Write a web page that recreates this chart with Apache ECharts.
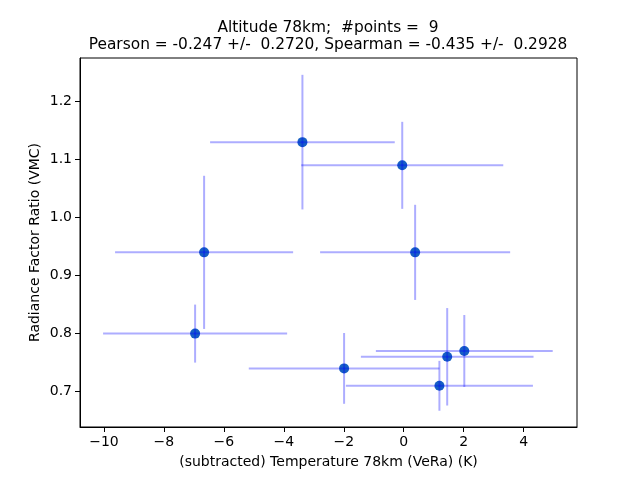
<!DOCTYPE html>
<html>
<head>
<meta charset="utf-8">
<script src="https://cdn.jsdelivr.net/npm/echarts@6/dist/echarts.min.js"></script>
<style>
  html, body { margin: 0; padding: 0; background: #fff; }
  #chart { width: 640px; height: 480px; }
</style>
</head>
<body>
<div id="chart"></div>
<script>
// data
var tempX = [-3.38, -0.05, -6.66, 0.38, -6.96, -1.99, 1.45, 2.02, 1.19];
var ratioY = [1.13, 1.09, 0.94, 0.94, 0.80, 0.74, 0.76, 0.77, 0.71];
var tempErr = [3.08, 3.37, 2.97, 3.17, 3.07, 3.18, 2.88, 2.95, 3.12];
var ratioErr = [0.116, 0.075, 0.132, 0.082, 0.050, 0.061, 0.084, 0.062, 0.043];
var xTicks = [-10, -8, -6, -4, -2, 0, 2, 4];
var yTicks = [0.7, 0.8, 0.9, 1.0, 1.1, 1.2];

var titleText = 'Altitude 78km;  #points =  9\nPearson = -0.247 +/-  0.2720, Spearman = -0.435 +/-  0.2928';

var FONT = 'DejaVu Sans';

var points = [];
var bars = [];
for (var i = 0; i < tempX.length; i++) {
	points.push([tempX[i], ratioY[i]]);
	bars.push([tempX[i], ratioY[i], tempErr[i], ratioErr[i]]);
}

var renderErrBar = function(params, api) {
	var x = api.value(0), y = api.value(1);
	var ex = api.value(2), ey = api.value(3);
	var l = api.coord([x - ex, y]);
	var r = api.coord([x + ex, y]);
	var t = api.coord([x, y + ey]);
	var b = api.coord([x, y - ey]);
	var style = { stroke: 'rgba(0,0,255,0.32)', lineWidth: 2 };
	return {
		type : 'group',
		children : [
			{ type : 'line', shape : { x1 : l[0], y1 : l[1], x2 : r[0], y2 : r[1] }, style : style },
			{ type : 'line', shape : { x1 : t[0], y1 : t[1], x2 : b[0], y2 : b[1] }, style : style }
		]
	};
};

var myChart = echarts.init(document.getElementById('chart'), null, { renderer : 'canvas' });

var option = {
	backgroundColor : '#fff',
	animation : false,
	title : {
		text : titleText,
		left : 323,
		textAlign : 'center',
		top : 14,
		textStyle : {
			fontFamily : FONT,
			fontSize : 15.4,
			fontWeight : 'normal',
			color : '#000',
			lineHeight : 17
		}
	},
	grid : {
		left : 80,
		right : 63,
		top : 58,
		bottom : 53,
		show : true,
		borderColor : '#000',
		borderWidth : 1,
		containLabel : false
	},
	xAxis : {
		type : 'value',
		min : -10.8,
		max : 5.78,
		name : '(subtracted) Temperature 78km (VeRa) (K)',
		nameLocation : 'middle',
		nameGap : 28,
		nameTextStyle : { fontFamily : FONT, fontSize : 14, color : '#000' },
		splitLine : { show : false },
		axisLine : { show : true, onZero : false, lineStyle : { color : '#000', width : 1 } },
		axisTick : { show : true, length : 5, customValues : xTicks, lineStyle : { color : '#000' } },
		axisLabel : {
			customValues : xTicks,
			margin : 8,
			fontFamily : FONT,
			fontSize : 14,
			color : '#000',
			formatter : function(v) { return String(v).replace('-', '\u2212'); }
		}
	},
	yAxis : {
		type : 'value',
		min : 0.639,
		max : 1.275,
		name : 'Radiance Factor Ratio (VMC)',
		nameLocation : 'middle',
		nameGap : 38,
		nameMoveOverlap : false,
		nameTextStyle : { fontFamily : FONT, fontSize : 14, color : '#000' },
		splitLine : { show : false },
		axisLine : { show : true, onZero : false, lineStyle : { color : '#000', width : 1 } },
		axisTick : { show : true, length : 5, customValues : yTicks, lineStyle : { color : '#000' } },
		axisLabel : {
			customValues : yTicks,
			margin : 8,
			fontFamily : FONT,
			fontSize : 14,
			color : '#000',
			formatter : function(v) { return v.toFixed(1); }
		}
	},
	series : [ {
		type : 'scatter',
		data : points,
		symbol : 'circle',
		symbolSize : 10,
		itemStyle : { color : '#175fc4', opacity : 1 },
		z : 2
	}, {
		type : 'custom',
		data : bars,
		renderItem : renderErrBar,
		z : 3,
		silent : true
	} ]
};
myChart.setOption(option);
</script>
</body>
</html>
